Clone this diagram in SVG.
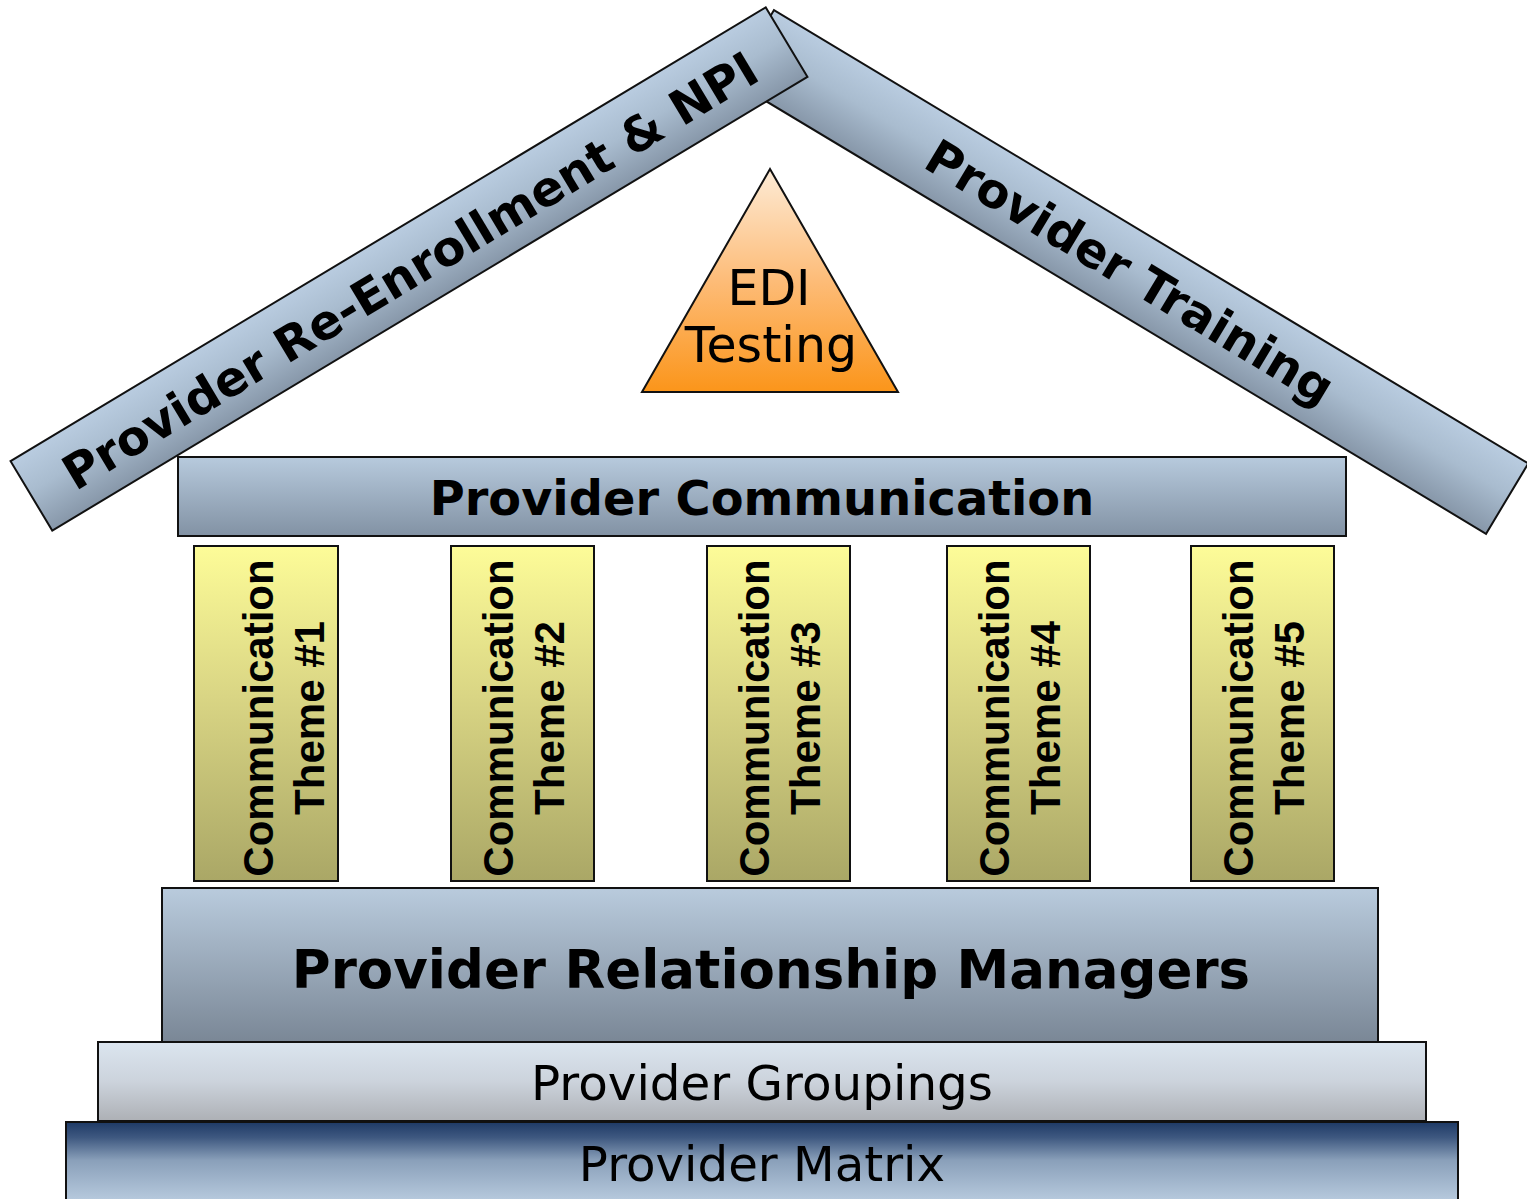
<svg xmlns="http://www.w3.org/2000/svg" width="1527" height="1199" viewBox="0 0 1527 1199">
<style>
.box{stroke:#111;stroke-width:2}
.bold{font-family:"DejaVu Sans",Verdana,sans-serif;font-weight:bold;fill:#000}
.reg{font-family:"DejaVu Sans",Verdana,sans-serif;fill:#000}
.pil{font-family:"Liberation Sans",Arial,sans-serif;font-weight:bold;font-size:42px;fill:#000}
</style>
<defs>
<linearGradient id="gBeam" x1="0" y1="0" x2="0" y2="1">
<stop offset="0" stop-color="#b9cce0"/><stop offset="0.45" stop-color="#a9bccf"/><stop offset="1" stop-color="#8797a9"/>
</linearGradient>
<linearGradient id="gComm" x1="0" y1="0" x2="0" y2="1">
<stop offset="0" stop-color="#b7cadd"/><stop offset="1" stop-color="#8292a4"/>
</linearGradient>
<linearGradient id="gPRM" x1="0" y1="0" x2="0" y2="1">
<stop offset="0" stop-color="#b9cbdd"/><stop offset="1" stop-color="#7a8796"/>
</linearGradient>
<linearGradient id="gPil" x1="0" y1="0" x2="0" y2="1">
<stop offset="0" stop-color="#fdfc98"/><stop offset="0.45" stop-color="#d9d584"/><stop offset="1" stop-color="#aaa766"/>
</linearGradient>
<linearGradient id="gTri" x1="0" y1="0" x2="0" y2="1">
<stop offset="0" stop-color="#fdebd6"/><stop offset="0.5" stop-color="#fdbc78"/><stop offset="1" stop-color="#fb951a"/>
</linearGradient>
<linearGradient id="gGrp" x1="0" y1="0" x2="0" y2="1">
<stop offset="0" stop-color="#dbe5ef"/><stop offset="0.5" stop-color="#ccd3dc"/><stop offset="1" stop-color="#adb0b5"/>
</linearGradient>
<linearGradient id="gMat" gradientUnits="userSpaceOnUse" x1="0" y1="1122" x2="0" y2="1199">
<stop offset="0" stop-color="#1e3a66"/><stop offset="0.2" stop-color="#3e5880"/><stop offset="0.5" stop-color="#8aa0ba"/><stop offset="1" stop-color="#b5c8dc"/>
</linearGradient>
</defs>

<g id="roof-right">
<rect class="box" x="-440" y="-41" width="880" height="82" fill="url(#gBeam)" transform="translate(1130,272) rotate(31)"/>
<text class="bold" font-size="48" text-anchor="middle" x="0" y="17" transform="translate(1130,272) rotate(31)">Provider Training</text>
</g>
<g id="roof-left">
<rect class="box" x="-440.5" y="-40.5" width="881" height="81" fill="url(#gBeam)" transform="translate(409,269) rotate(-31)"/>
<text class="bold" font-size="48" text-anchor="middle" x="0" y="19" transform="translate(409,269) rotate(-31)">Provider Re-Enrollment &amp; NPI</text>
</g>

<g id="edi-testing">
<polygon class="box" stroke-width="1.5" points="770,169 898,392 642,392" fill="url(#gTri)"/>
<text class="reg" font-size="49" text-anchor="middle" x="769" y="305">EDI</text>
<text class="reg" font-size="49" text-anchor="middle" x="771" y="362">Testing</text>
</g>

<g id="provider-communication">
<rect class="box" x="178" y="457" width="1168" height="79" fill="url(#gComm)"/>
<text class="bold" font-size="47.8" text-anchor="middle" x="762" y="515">Provider Communication</text>
</g>

<g id="theme-1">
<rect class="box" x="194" y="546" width="144" height="335" fill="url(#gPil)"/>
<text class="pil" text-anchor="middle" transform="translate(273,718) rotate(-90)">Communication</text>
<text class="pil" text-anchor="middle" transform="translate(324,718) rotate(-90)">Theme #1</text>
</g>
<g id="theme-2">
<rect class="box" x="451" y="546" width="143" height="335" fill="url(#gPil)"/>
<text class="pil" text-anchor="middle" transform="translate(513,718) rotate(-90)">Communication</text>
<text class="pil" text-anchor="middle" transform="translate(564,718) rotate(-90)">Theme #2</text>
</g>
<g id="theme-3">
<rect class="box" x="707" y="546" width="143" height="335" fill="url(#gPil)"/>
<text class="pil" text-anchor="middle" transform="translate(769,718) rotate(-90)">Communication</text>
<text class="pil" text-anchor="middle" transform="translate(820,718) rotate(-90)">Theme #3</text>
</g>
<g id="theme-4">
<rect class="box" x="947" y="546" width="143" height="335" fill="url(#gPil)"/>
<text class="pil" text-anchor="middle" transform="translate(1009,718) rotate(-90)">Communication</text>
<text class="pil" text-anchor="middle" transform="translate(1060,718) rotate(-90)">Theme #4</text>
</g>
<g id="theme-5">
<rect class="box" x="1191" y="546" width="143" height="335" fill="url(#gPil)"/>
<text class="pil" text-anchor="middle" transform="translate(1253,718) rotate(-90)">Communication</text>
<text class="pil" text-anchor="middle" transform="translate(1304,718) rotate(-90)">Theme #5</text>
</g>

<g id="provider-relationship-managers">
<rect class="box" x="162" y="888" width="1216" height="154" fill="url(#gPRM)"/>
<text class="bold" font-size="53" text-anchor="middle" x="771" y="988">Provider Relationship Managers</text>
</g>
<g id="provider-groupings">
<rect class="box" x="98" y="1042" width="1328" height="79" fill="url(#gGrp)"/>
<text class="reg" font-size="48.4" text-anchor="middle" x="762" y="1100">Provider Groupings</text>
</g>
<g id="provider-matrix">
<rect class="box" x="66" y="1122" width="1392" height="100" fill="url(#gMat)"/>
<text class="reg" font-size="48.3" text-anchor="middle" x="762" y="1181">Provider Matrix</text>
</g>
</svg>
